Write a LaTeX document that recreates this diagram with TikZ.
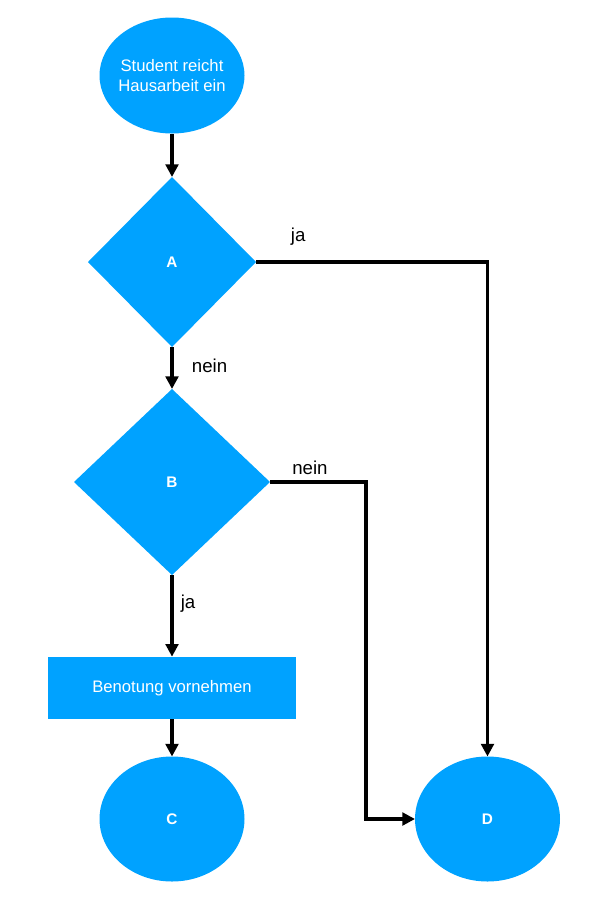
\documentclass[tikz,border=0pt]{standalone}
\usepackage{fontspec}
\setmainfont{Liberation Sans}
\usetikzlibrary{shapes.geometric,arrows.meta}
\definecolor{flowblue}{HTML}{00A2FF}
\tikzset{
  shapebase/.style={fill=flowblue, draw=none, inner sep=0pt, outer sep=0pt, text=white, align=center, font=\fontsize{12.5}{14.5}\selectfont},
  oval/.style={shapebase, ellipse},
  decision/.style={shapebase, diamond, font=\fontsize{11.5}{13}\selectfont\bfseries},
  taskbox/.style={shapebase, rectangle},
  arr/.style={line width=2.6pt, line join=miter, -{Triangle[length=9.5pt,width=9.5pt]}},
  lbl/.style={anchor=base west, inner sep=0pt, font=\fontsize{14}{16}\selectfont}
}
\begin{document}
\begin{tikzpicture}[x=0.75pt,y=-0.75pt]
\useasboundingbox (0,0) rectangle (595,904);
\node[oval, inner xsep=-2.5pt, minimum width=108.75pt, minimum height=87pt] (S) at (172,75.5) {Student reicht\\Hausarbeit ein};
\node[decision, minimum width=126pt, minimum height=127.5pt] (A) at (172,262) {A};
\node[decision, minimum width=147pt, minimum height=139.5pt] (B) at (172,482) {B};
\node[taskbox, minimum width=186pt, minimum height=47pt] (R) at (172,688) {Benotung vornehmen};
\node[oval, minimum width=108.75pt, minimum height=93.75pt, font=\fontsize{11.5}{13}\selectfont\bfseries] (C) at (172,819) {C};
\node[oval, minimum width=108.75pt, minimum height=93.75pt, font=\fontsize{11.5}{13}\selectfont\bfseries] (D) at (487.5,819) {D};
\coordinate (kB) at (366,481);

\draw[arr] (S) -- (A);
\draw[arr] (A) -- (B);
\draw[arr] (B) -- (R);
\draw[arr] (R) -- (C);
\draw[arr] (A.east) -| (D.north);
\draw[arr] (B.east) -- (B.east -| kB) |- (D.west);

\node[lbl] (la) at (290.7,241.7) {ja};
\node[lbl] (lb) at (191.7,372.7) {nein};
\node[lbl] (lc) at (292,474) {nein};
\node[lbl] (ld) at (180.5,608) {ja};
\end{tikzpicture}
\end{document}
